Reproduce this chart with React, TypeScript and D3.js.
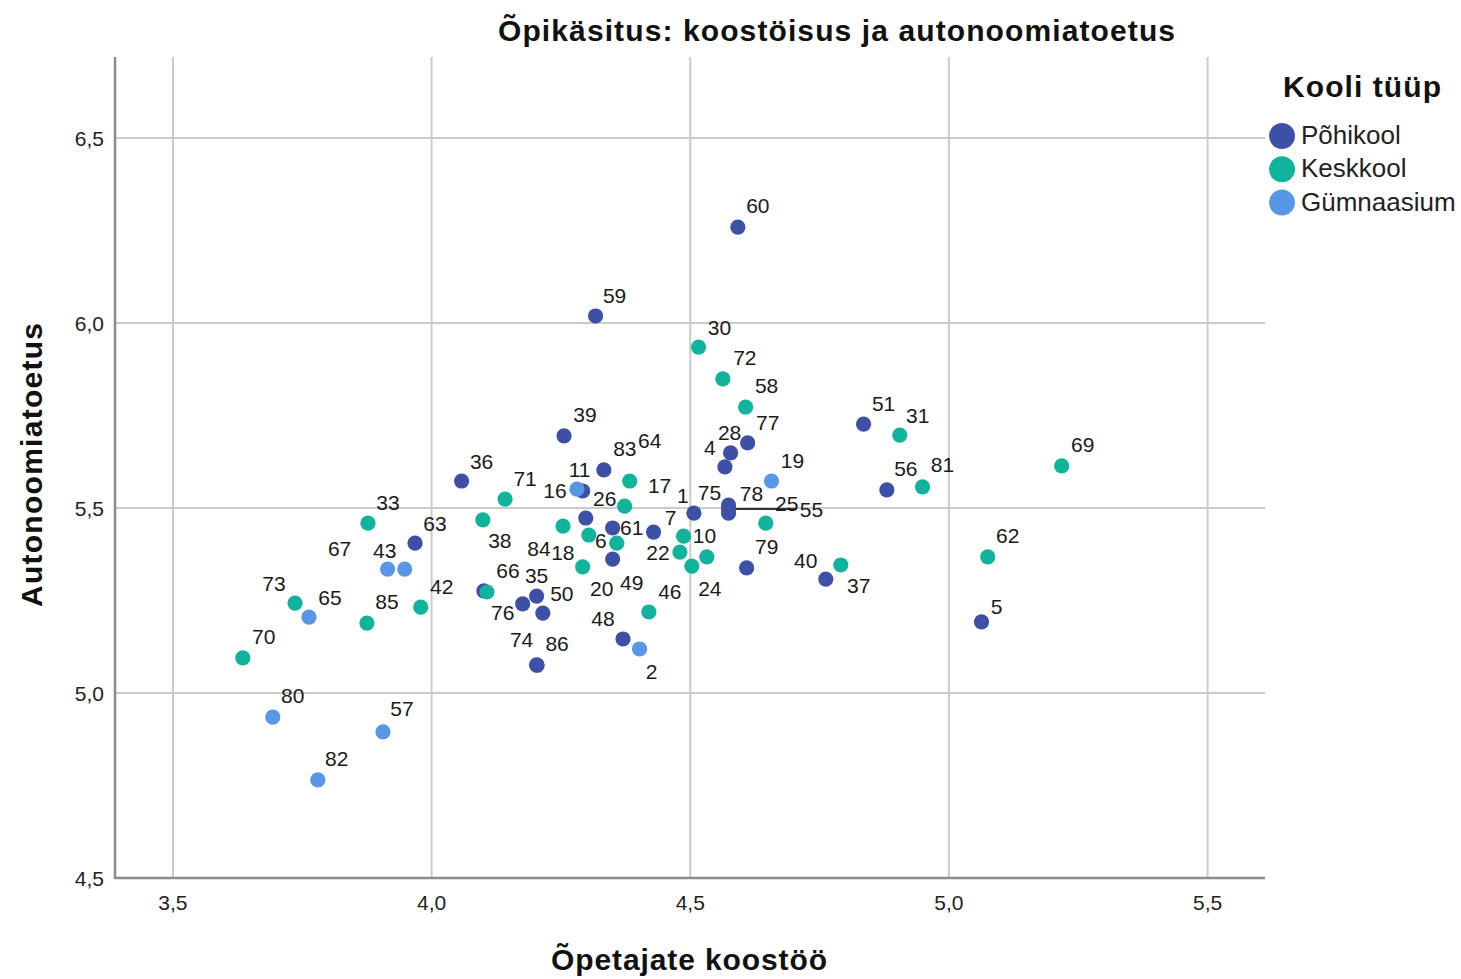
import React from "react";
import * as d3 from "d3";

// ---- data ----
const labels: string[] = ["60","59","30","72","58","51","31","39","77","28","4","19","69","56","81","62","5","37","40","79","25","75","78","55","1","7","10","22","24","","46","2","48","83","64","17","11","16","71","36","26","38","84","18","61","6","49","20","","66","35","76","50","74","86","42","33","63","67","43","73","65","85","70","80","57","82"];
const xValues: number[] = [4.592,4.317,4.516,4.563,4.607,4.835,4.905,4.256,4.611,4.578,4.567,4.657,5.218,4.880,4.949,5.075,5.063,4.791,4.762,4.609,4.646,4.574,4.574,4.574,4.507,4.429,4.487,4.480,4.503,4.532,4.420,4.402,4.370,4.333,4.383,4.373,4.292,4.281,4.142,4.058,4.298,4.099,4.254,4.304,4.350,4.358,4.350,4.292,4.101,4.107,4.203,4.176,4.215,4.203,4.204,3.979,3.877,3.968,3.915,3.948,3.736,3.763,3.875,3.635,3.693,3.906,3.780];
const yValues: number[] = [6.259,6.019,5.935,5.849,5.773,5.727,5.697,5.695,5.676,5.649,5.611,5.573,5.614,5.549,5.557,5.368,5.192,5.346,5.308,5.338,5.459,5.508,5.486,5.497,5.486,5.435,5.424,5.381,5.343,5.368,5.219,5.119,5.146,5.603,5.573,5.505,5.546,5.551,5.524,5.573,5.473,5.468,5.451,5.427,5.446,5.405,5.362,5.341,5.276,5.273,5.262,5.241,5.216,5.076,5.075,5.232,5.459,5.405,5.335,5.335,5.243,5.205,5.189,5.095,4.935,4.895,4.765];
const schoolType: string[] = ["P","P","K","K","K","P","K","P","P","P","P","G","K","P","K","K","P","K","P","P","K","P","P","P","P","P","K","K","K","K","K","G","P","P","K","K","P","G","K","P","P","K","K","K","P","K","P","K","P","K","P","P","P","P","P","K","K","P","G","G","K","G","K","K","G","G","G"];

const categories = ["P", "K", "G"];
const categoryNames = ["Põhikool", "Keskkool", "Gümnaasium"];
const xTicks = [3.5, 4.0, 4.5, 5.0, 5.5];
const yTicks = [4.5, 5.0, 5.5, 6.0, 6.5];

// ---- layout (label offsets in px, from point centre to label centre) ----
const labelOffsets: Record<string, [number, number]> = {
  "60":[20,-22],"59":[19,-20],"30":[21,-20],"72":[22,-21],"58":[21,-22],"51":[20,-21],"31":[18,-20],
  "39":[21,-21],"77":[20,-20],"28":[-1,-20],"4":[-15,-19],"19":[21,-21],"69":[21,-21],"56":[19,-21],
  "81":[20,-22],"62":[20,-21],"5":[15,-15],"37":[18,21],"40":[-20,-19],"79":[20,-21],"25":[21,-20],
  "75":[-19,-13],"78":[23,-20],"55":[83,0],"1":[-11,-18],"7":[17,-15],"10":[21,-1],"22":[-22,0],
  "24":[18,22],"46":[21,-20],"2":[12,23],"48":[-20,-20],"83":[21,-21],"64":[20,-41],"17":[35,-21],
  "11":[-3,-21],"16":[-22,1],"71":[20,-21],"36":[20,-20],"26":[19,-20],"38":[17,21],"84":[-24,22],
  "18":[-26,17],"61":[19,0],"6":[-16,-3],"49":[19,23],"20":[19,22],"66":[21,-22],"35":[0,-21],
  "76":[-20,9],"50":[19,-20],"74":[-15,-25],"86":[20,-22],"42":[21,-21],"33":[20,-21],"63":[20,-20],
  "67":[-48,-21],"43":[-20,-19],"73":[-21,-20],"65":[21,-20],"85":[20,-22],"70":[21,-21],"80":[20,-22],
  "57":[19,-23],"82":[19,-21],
};
const leaderFor = "55";

const colors: Record<string, string> = { P: "#3d50a5", K: "#11b39b", G: "#5797e6" };
const FONT = "'Liberation Sans', Arial, sans-serif";

export default function App() {
  const W = 1461, H = 979;
  const left = 115, right = 1265, top = 57, bottom = 878;
  const x = d3.scaleLinear().domain([3.388, 5.611]).range([left, right]);
  const y = d3.scaleLinear().domain([4.5, 6.719]).range([bottom, top]);
  const fmt = (v: number) => d3.format(".1f")(v).replace(".", ",");

  const pts = labels.map((l, i) => ({ l, cx: x(xValues[i]), cy: y(yValues[i]), t: schoolType[i] }));
  const leaderPt = pts.find((p) => p.l === leaderFor);

  return (
    <svg width={W} height={H} style={{ position: "absolute", left: 0, top: 0, background: "#fff" }} fontFamily={FONT}>
      <rect x={0} y={0} width={W} height={H} fill="#fff" />
      {/* grid */}
      {xTicks.map((t) => (
        <line key={"gx" + t} x1={x(t)} x2={x(t)} y1={top} y2={bottom} stroke="#cbcbcb" strokeWidth={2} />
      ))}
      {yTicks.filter((t) => t > 4.5).map((t) => (
        <line key={"gy" + t} x1={left} x2={right} y1={y(t)} y2={y(t)} stroke="#cbcbcb" strokeWidth={2} />
      ))}
      {/* axes */}
      <line x1={left} x2={left} y1={top} y2={bottom + 1} stroke="#8c8c8c" strokeWidth={2.5} />
      <line x1={left} x2={right} y1={bottom} y2={bottom} stroke="#8c8c8c" strokeWidth={2.5} />
      {/* tick labels */}
      {xTicks.map((t) => (
        <text key={"tx" + t} x={x(t)} y={910} fontSize={21} fill="#222" textAnchor="middle">{fmt(t)}</text>
      ))}
      {yTicks.map((t) => (
        <text key={"ty" + t} x={104} y={y(t) + 7.5} fontSize={21} fill="#222" textAnchor="end">{fmt(t)}</text>
      ))}
      {/* leader line */}
      {leaderPt && (
        <line x1={leaderPt.cx + 6} x2={leaderPt.cx + labelOffsets[leaderFor][0] - 15} y1={leaderPt.cy} y2={leaderPt.cy} stroke="#333" strokeWidth={2} />
      )}
      {/* points */}
      {pts.map((p, i) => (
        <circle key={"c" + i} cx={p.cx} cy={p.cy} r={7.6} fill={colors[p.t]} />
      ))}
      {/* point labels */}
      {pts.filter((p) => p.l !== "").map((p, i) => {
        const o = labelOffsets[p.l] || [20, -21];
        return (
          <text key={"l" + i} x={p.cx + o[0]} y={p.cy + o[1] + 7.5} fontSize={21} fill="#1a1a1a" textAnchor="middle">{p.l}</text>
        );
      })}
      {/* titles */}
      <text x={498} y={41} fontSize={30} fontWeight="bold" fill="#111" textLength={677} lengthAdjust="spacing">Õpikäsitus: koostöisus ja autonoomiatoetus</text>
      <text x={551} y={970} fontSize={30} fontWeight="bold" fill="#111" textLength={276} lengthAdjust="spacing">Õpetajate koostöö</text>
      <text transform="translate(42,607) rotate(-90)" x={0} y={0} fontSize={30} fontWeight="bold" fill="#111" textLength={284} lengthAdjust="spacing">Autonoomiatoetus</text>
      {/* legend */}
      <text x={1283} y={97} fontSize={30} fontWeight="bold" fill="#111" textLength={158} lengthAdjust="spacing">Kooli tüüp</text>
      {categories.map((c, i) => (
        <g key={"lg" + c}>
          <circle cx={1282} cy={136 + i * 33.3} r={13} fill={colors[c]} />
          <text x={1301} y={144 + i * 33.3} fontSize={26} fill="#222">{categoryNames[i]}</text>
        </g>
      ))}
    </svg>
  );
}
